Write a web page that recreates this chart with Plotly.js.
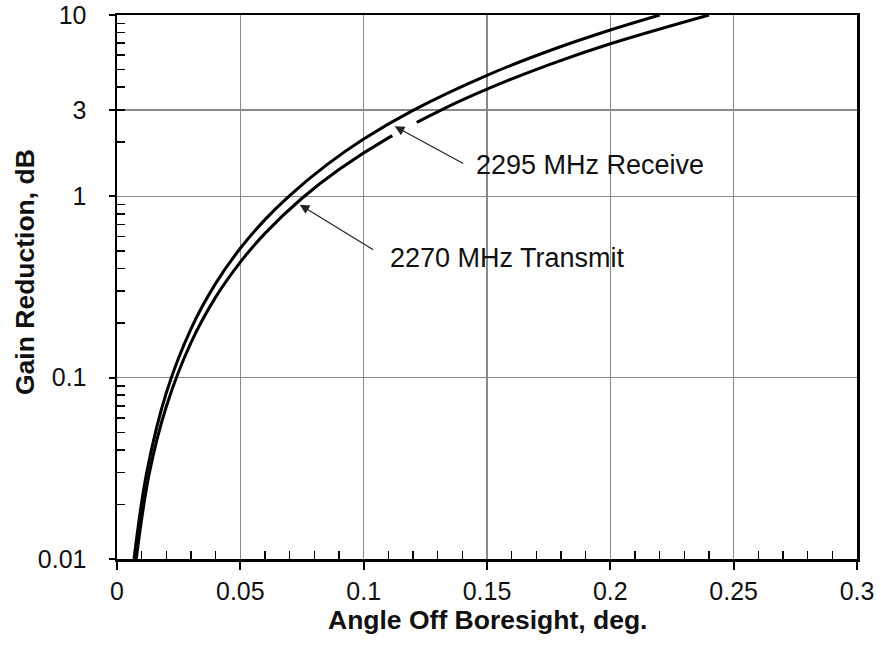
<!DOCTYPE html>
<html>
<head>
<meta charset="utf-8">
<script src="https://cdn.plot.ly/plotly-3.0.1.min.js"></script>
<style>html,body{margin:0;padding:0;background:#fff;}#chart{width:881px;height:654px;}</style>
</head>
<body>
<div id="chart"></div>
<script>
// Angle off boresight (deg) and gain reduction (dB)
const receiveAngle = [0.0069, 0.012, 0.02, 0.03, 0.04, 0.05, 0.06, 0.07, 0.085, 0.1, 0.12, 0.15, 0.175, 0.2, 0.22];
const receiveGain  = [0.01, 0.0298, 0.0826, 0.186, 0.331, 0.517, 0.744, 1.01, 1.49, 2.07, 2.98, 4.65, 6.33, 8.26, 10];
const transmitAngle = [0.0078, 0.013, 0.02, 0.03, 0.04, 0.05, 0.06, 0.075, 0.09, 0.11, 0.132, 0.15, 0.175, 0.2, 0.24];
const transmitGain  = [0.01, 0.0293, 0.0694, 0.156, 0.278, 0.434, 0.625, 0.976, 1.405, 2.10, 3.02, 3.90, 5.31, 6.94, 10];

const xTickVals = [0, 0.05, 0.1, 0.15, 0.2, 0.25, 0.3];
const xTickText = ["0", "0.05", "0.1", "0.15", "0.2", "0.25", "0.3"];
const xMinorVals = [0.01,0.02,0.03,0.04,0.06,0.07,0.08,0.09,0.11,0.12,0.13,0.14,0.16,0.17,0.18,0.19,0.21,0.22,0.23,0.24,0.26,0.27,0.28,0.29];
const yTickVals = [0.01, 0.1, 1, 3, 10];
const yTickText = ["0.01", "0.1", "1", "3", "10"];

const xTitle = "Angle Off Boresight, deg.";
const yTitle = "Gain Reduction, dB";
const receiveLabel = "2295 MHz Receive";
const transmitLabel = "2270 MHz Transmit";

const yMinor = [];
[0.01, 0.1, 1].forEach(d => { for (let k = 2; k <= 9; k++) yMinor.push(+(d * k).toPrecision(3)); });

const font = "Liberation Sans, Arial, Helvetica, sans-serif";
const ink = "#111";

const traces = [
  {x: receiveAngle, y: receiveGain, mode: "lines", name: receiveLabel,
   line: {color: "#000", width: 3, shape: "spline", smoothing: 1}},
  {x: transmitAngle, y: transmitGain, mode: "lines", name: transmitLabel,
   line: {color: "#000", width: 3, shape: "spline", smoothing: 1}}
];

const layout = {
  width: 881, height: 654,
  margin: {l: 117, r: 24, t: 15, b: 95},
  paper_bgcolor: "#fff", plot_bgcolor: "#fff",
  showlegend: false,
  font: {family: font, color: ink, size: 25},
  xaxis: {
    range: [0, 0.3], tickmode: "array", tickvals: xTickVals, ticktext: xTickText,
    ticks: "outside", ticklen: 8, tickwidth: 2, tickcolor: "#000",
    showline: true, linecolor: "#000", linewidth: 2.5, mirror: true,
    showgrid: true, gridcolor: "#8a8a8a", gridwidth: 1.5, zeroline: false,
    minor: {tickmode: "array", tickvals: xMinorVals,
            ticks: "inside", ticklen: 8, tickwidth: 1.5, tickcolor: "#000", showgrid: false},
    tickfont: {size: 25, family: font, color: ink}
  },
  yaxis: {
    type: "log", range: [-2, 1], tickmode: "array", tickvals: yTickVals, ticktext: yTickText,
    ticks: "outside", ticklen: 6, tickwidth: 2, tickcolor: "#000", ticklabelstandoff: 17,
    showline: true, linecolor: "#000", linewidth: 2.5, mirror: true,
    showgrid: true, gridcolor: "#8a8a8a", gridwidth: 1.5, zeroline: false,
    minor: {tickmode: "array", tickvals: yMinor, ticks: "inside", ticklen: 8, tickwidth: 1.5, tickcolor: "#000", showgrid: false},
    tickfont: {size: 25, family: font, color: ink}
  },
  annotations: [
    // axis titles
    {x: 0.5, y: -0.113, xref: "paper", yref: "paper", text: "<b>" + xTitle + "</b>", showarrow: false,
     xanchor: "center", yanchor: "middle", font: {size: 26.5, family: font, color: ink}},
    {x: -0.1243, y: 0.5276, xref: "paper", yref: "paper", text: "<b>" + yTitle + "</b>", showarrow: false,
     textangle: -90, xanchor: "center", yanchor: "middle", font: {size: 26.5, family: font, color: ink}},
    // white break in the transmit curve under the receive arrow
    {x: 0.1215, y: 0.408, ax: 0.111, ay: 0.330, xref: "x", yref: "y", axref: "x", ayref: "y",
     text: "", showarrow: true, arrowhead: 0, arrowwidth: 6, arrowcolor: "#fff", standoff: 0, startstandoff: 0},
    // arrows
    {x: 0.1126, y: 0.386, xref: "x", yref: "y", text: "", showarrow: true,
     ax: 70, ay: 38, arrowhead: 2, arrowsize: 1.6, arrowwidth: 1.2, arrowcolor: "#222"},
    {x: 0.0741, y: -0.046, xref: "x", yref: "y", text: "", showarrow: true,
     ax: 75, ay: 46, arrowhead: 2, arrowsize: 1.6, arrowwidth: 1.2, arrowcolor: "#222"},
    // labels
    {x: 0.1447, y: 0.174, xref: "x", yref: "y", text: receiveLabel, showarrow: false,
     xanchor: "left", yanchor: "middle", font: {size: 27, family: font, color: ink}},
    {x: 0.1099, y: -0.340, xref: "x", yref: "y", text: transmitLabel, showarrow: false,
     xanchor: "left", yanchor: "middle", font: {size: 27, family: font, color: ink}}
  ]
};

Plotly.newPlot("chart", traces, layout, {staticPlot: true, displayModeBar: false});
</script>
</body>
</html>
